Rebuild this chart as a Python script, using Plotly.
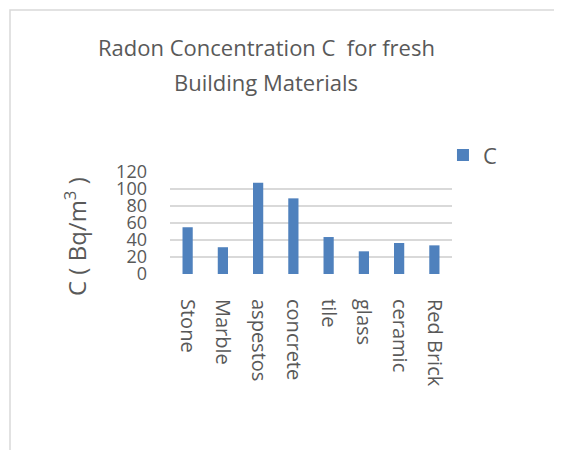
import plotly.graph_objects as go

# dati
materials = ["Stone", "Marble", "aspestos", "concrete", "tile", "glass", "ceramic", "Red Brick"]
radon_c = [55, 31.5, 107.5, 89, 43.5, 26.7, 36.5, 33.7]
y_ticks = [0, 20, 40, 60, 80, 100, 120]
title_lines = ["Radon Concentration C  for fresh", "Building Materials"]
y_title = "C ( Bq/m<sup>3</sup> )"

TXT = "#595959"
FONT = "Open Sans"

# la pagina ha 8px di margine nel body: la figura è più piccola di 8px
W, H = 554, 442
L, T = 162, 164
PW, PH = 282, 102   # area del grafico

fig = go.Figure()
fig.add_trace(go.Bar(x=materials, y=radon_c, name="C",
                     marker=dict(color="#4f81bd", line=dict(width=0))))

fig.update_layout(
    width=W, height=H,
    paper_bgcolor="white", plot_bgcolor="white",
    margin=dict(l=L, r=W - L - PW, t=T, b=H - T - PH),
    font=dict(family=FONT, color=TXT, size=18),
    bargap=0.71,
    showlegend=True,
    legend=dict(x=0.968, y=1.37, xanchor="left", yanchor="top",
                font=dict(size=22, color=TXT), bgcolor="rgba(0,0,0,0)"),
    xaxis=dict(tickangle=90, ticks="", showline=False, showgrid=False,
               tickfont=dict(size=20, color=TXT), ticklabelstandoff=24),
    yaxis=dict(range=[0, 120], tickvals=y_ticks, showgrid=True,
               gridcolor="#d9d9d9", gridwidth=2, zeroline=False, ticks="",
               showline=False, tickfont=dict(size=18, color=TXT),
               ticklabelstandoff=22),
)

# titolo su due righe (interlinea più ampia di quella di plotly)
for txt, yc in zip(title_lines, [39, 74]):
    fig.add_annotation(text=txt, xref="paper", yref="paper",
                       x=(258 - L) / PW, y=(T + PH - yc) / PH,
                       xanchor="center", yanchor="middle", showarrow=False,
                       font=dict(size=22, color=TXT, family=FONT))

# titolo asse y, un po' più in basso del centro dell'area
fig.add_annotation(text=y_title, textangle=-90, xref="paper", yref="paper",
                   x=(67 - L) / PW, y=(T + PH - 229) / PH,
                   xanchor="center", yanchor="middle", showarrow=False,
                   font=dict(size=24, color=TXT, family=FONT))

# cornice del grafico
fig.add_shape(type="rect", xref="paper", yref="paper",
              x0=(2 - L) / PW, x1=(620 - L) / PW,
              y0=(T + PH - 480) / PH, y1=(T + PH - 2) / PH,
              line=dict(color="#d9d9d9", width=1.5), fillcolor="rgba(0,0,0,0)",
              layer="below")

fig.write_html("out.html")
